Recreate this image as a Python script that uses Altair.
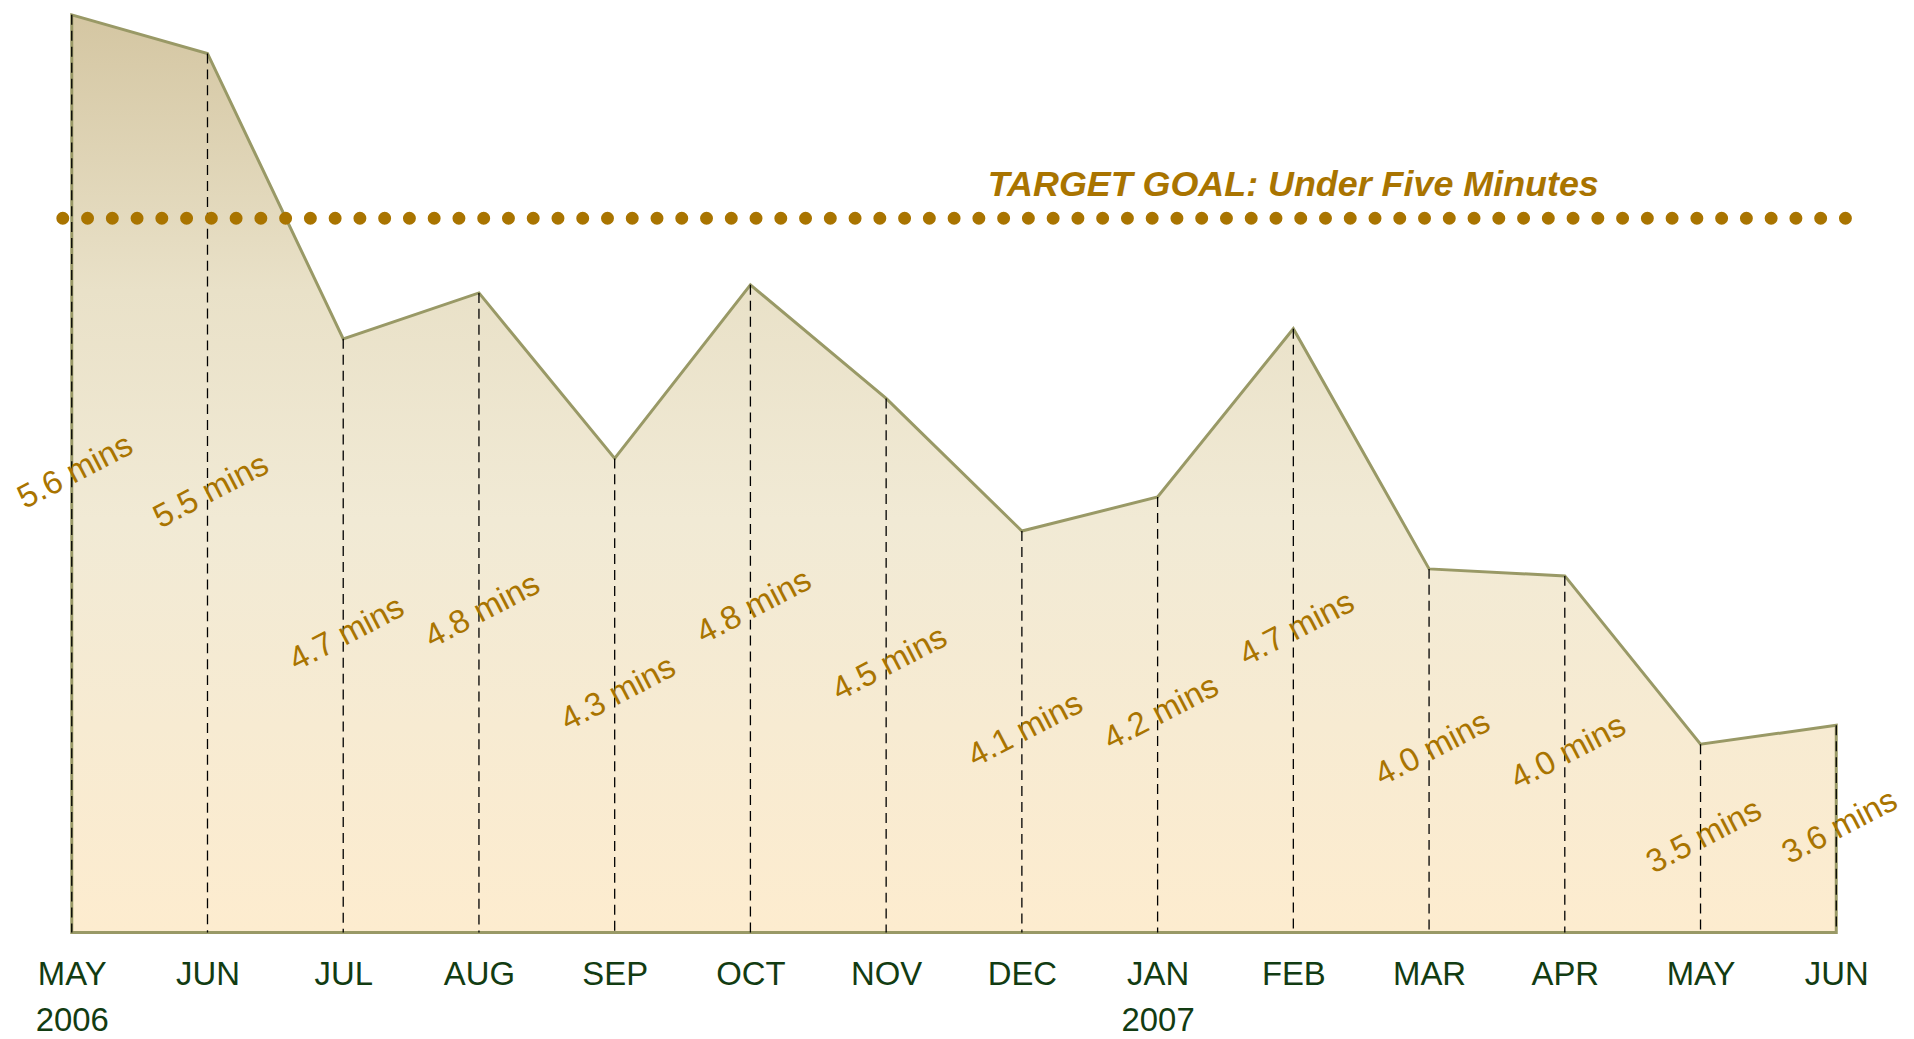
import json
import altair as alt
import pandas as pd

# ---- data ----
months = ["MAY", "JUN", "JUL", "AUG", "SEP", "OCT", "NOV", "DEC",
          "JAN", "FEB", "MAR", "APR", "MAY", "JUN"]
years = ["2006", "", "", "", "", "", "", "", "2007", "", "", "", "", ""]
avg_minutes = [5.58, 5.47, 4.656, 4.787, 4.315, 4.81, 4.486, 4.108,
               4.205, 4.685, 4.0, 3.98, 3.5, 3.554]
label_minutes = [5.6, 5.5, 4.7, 4.8, 4.3, 4.8, 4.5, 4.1,
                 4.2, 4.7, 4.0, 4.0, 3.5, 3.6]
target_value = [5.0]
target_text = ["TARGET GOAL: Under Five Minutes"]
target_anchor_month = [9]  # text is centred over FEB

Y_MIN, Y_MAX = 2.963, 5.58
W, H = 1771, 921

df = pd.DataFrame({
    "idx": list(range(len(months))),
    "avg": avg_minutes,
    "label": [f"{v:.1f} mins" for v in label_minutes],
})
tdf = pd.DataFrame({"target": target_value, "text": target_text,
                    "idx": target_anchor_month})

label_strings = [f"{m}|{y}" if y else m for m, y in zip(months, years)]
label_expr = ("split(" + json.dumps(label_strings).replace('"', "'")
              + "[round(datum.value)], '|')")

GOLD = "#a97400"

xscale = alt.Scale(domain=[0, len(months) - 1], nice=False, zero=False)
yscale = alt.Scale(domain=[Y_MIN, Y_MAX], nice=False, zero=False)

x = alt.X("idx:Q", scale=xscale, title=None,
          axis=alt.Axis(values=list(range(len(months))), labelExpr=label_expr,
                        ticks=False, tickSize=0, domain=False, grid=False,
                        labelFont="Liberation Sans", labelFontSize=33,
                        labelColor="#123c12", labelPadding=26,
                        labelLineHeight=46, labelFlush=False,
                        labelOverlap=False, labelBaseline="top",
                        labelAlign="center", labelBound=False))
y = alt.Y("avg:Q", scale=yscale, axis=None)

base = alt.Chart(df).transform_calculate(
    base=f"{Y_MIN}", mid=f"(datum.avg + {Y_MIN}) / 2")

gradient = alt.Gradient(
    gradient="linear",
    stops=[alt.GradientStop(color="#d4c6a2", offset=0),
           alt.GradientStop(color="#e9e1c8", offset=0.3),
           alt.GradientStop(color="#f1ead5", offset=0.55),
           alt.GradientStop(color="#fdeccf", offset=1)],
    x1=0, x2=0, y1=0, y2=1)

area = base.mark_area(color=gradient, stroke="#999966", strokeWidth=3).encode(
    x=x, y=y, y2="base:Q")

rules = base.mark_rule(color="#000000", strokeWidth=1.3,
                       strokeDash=[10, 6]).encode(x=x, y=y, y2="base:Q")

target_rule = alt.Chart(tdf).mark_rule(
    color=GOLD, strokeWidth=13, strokeCap="round", strokeDash=[0, 24.85]
).encode(y=alt.Y("target:Q", scale=yscale, axis=None),
         x=alt.value(-9), x2=alt.value(W + 10))

target_label = alt.Chart(tdf).mark_text(
    align="center", baseline="alphabetic", dy=-22,
    font="Liberation Sans", fontSize=36,
    fontStyle="italic", fontWeight="bold", color=GOLD
).encode(x=x, y=alt.Y("target:Q", scale=yscale, axis=None), text="text:N")

labels = base.mark_text(
    angle=332.5, fontSize=33, font="Liberation Sans", color=GOLD,
    align="center", baseline="middle", dx=4
).encode(x=x, y=alt.Y("mid:Q", scale=yscale, axis=None), text="label:N")

chart = alt.layer(area, rules, target_rule, target_label, labels).properties(
    width=W, height=H,
    autosize=alt.AutoSizeParams(type="none"),
    padding={"left": 64, "top": 5, "right": 70, "bottom": 103},
    background="white",
).configure_view(stroke=None)

chart.save("out.html", embed_options={"renderer": "svg", "actions": False})
